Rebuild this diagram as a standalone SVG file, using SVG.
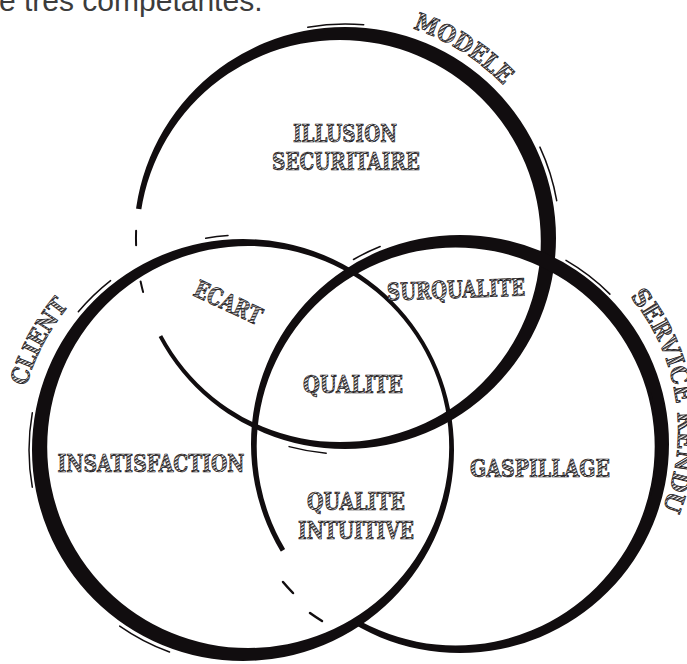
<svg xmlns="http://www.w3.org/2000/svg" width="687" height="664" viewBox="0 0 687 664">
<style>
.ink{fill:#110d0f;fill-rule:evenodd}
.br{fill:none;stroke:#110d0f;stroke-linecap:round}
.lbl{font-family:"DejaVu Serif Condensed","DejaVu Serif",serif;font-weight:bold;font-size:24px;fill:url(#hatch);stroke:#161214;stroke-width:0.7;text-anchor:middle}
.top{font-family:"Liberation Sans",Arial,sans-serif;font-size:30px;fill:#3c3c3c}
</style>
<defs>
<pattern id="hatch" width="3" height="3" patternUnits="userSpaceOnUse" patternTransform="rotate(60)">
<rect width="3" height="3" fill="#ffffff"/>
<rect width="1.6" height="3" fill="#262224"/>
</pattern>
<mask id="m1" maskUnits="userSpaceOnUse" x="0" y="0" width="687" height="664">
<rect width="687" height="664" fill="#fff"/>
<polygon points="345,238 115.4,360.1 87.5,201.8" fill="#000"/>
</mask>
<mask id="m3" maskUnits="userSpaceOnUse" x="0" y="0" width="687" height="664">
<rect width="687" height="664" fill="#fff"/>
<polygon points="460,444 330,669.2 237.1,577.9" fill="#000"/>
</mask>
<path id="pModele" d="M371.8,19.6 A220,220 0 0 1 529.5,118.2"/>
<path id="pClient" d="M17,450 A226,226 0 0 1 116.6,262.6"/>
<path id="pService" d="M616.5,281.5 A210,210 0 0 1 654.1,527.3"/>
</defs>

<text class="top" x="-1" y="11">e très compétantes.</text>

<g id="modele">
<path class="ink" mask="url(#m1)" d="M134,238 a211,211 0 1 0 422,0 a211,211 0 1 0 -422,0 Z M138.8,241 a201,201 0 1 0 402,0 a201,201 0 1 0 -402,0 Z"/>
<path class="br" stroke-width="1.5" d="M307.8,27.3 A214,214 0 0 1 363.7,24.8"/>
<path class="br" stroke-width="1.5" d="M539.9,147.1 A215,215 0 0 1 556.7,200.7"/>
<path class="br" stroke-width="1.5" d="M326.2,453.2 A216,216 0 0 1 289.1,446.6"/>
<path class="br" stroke-width="2" d="M136.1,245.3 A209,209 0 0 1 136.1,230.7"/>
<path class="br" stroke-width="2" d="M143.1,292.1 A209,209 0 0 1 140.6,281.5"/>
<text class="lbl" font-size="25"><textPath href="#pModele" startOffset="50%" textLength="108" lengthAdjust="spacingAndGlyphs">MODELE</textPath></text>
</g>

<g id="client">
<path class="ink" d="M32,450 a211,211 0 1 0 422,0 a211,211 0 1 0 -422,0 Z M47.2,447 a201,201 0 1 0 402,0 a201,201 0 1 0 -402,0 Z"/>
<path class="br" stroke-width="1.5" d="M32.3,487.2 A214,214 0 0 1 32.3,412.8"/>
<path class="br" stroke-width="1.5" d="M78.3,311.8 A215,215 0 0 1 110.6,280.6"/>
<path class="br" stroke-width="1.5" d="M205.7,238.3 A215,215 0 0 1 228,235.5"/>
<path class="br" stroke-width="1.5" d="M169.5,652 A215,215 0 0 1 119.7,626.1"/>
<text class="lbl"><textPath href="#pClient" startOffset="50%" textLength="92" lengthAdjust="spacingAndGlyphs">CLIENT</textPath></text>
</g>

<g id="service-rendu">
<path class="ink" mask="url(#m3)" d="M251,444 a209,209 0 1 0 418,0 a209,209 0 1 0 -418,0 Z M256.7,446.5 a199,199 0 1 0 398,0 a199,199 0 1 0 -398,0 Z"/>
<path class="br" stroke-width="2" d="M650.3,393 A197,197 0 0 1 650.3,495"/>
<path class="br" stroke-width="1.5" d="M566,260.4 A212,212 0 0 1 609.9,294.1"/>
<path class="br" stroke-width="2.5" d="M293,593 A224,224 0 0 1 283,582"/>
<path class="br" stroke-width="2.5" d="M322,621 A224,224 0 0 1 310,613"/>
<path class="br" stroke-width="1.5" d="M353.5,259.5 A213,213 0 0 1 380.2,246.5"/>
<text class="lbl" font-size="22"><textPath href="#pService" startOffset="50%" textLength="226" lengthAdjust="spacingAndGlyphs">SERVICE RENDU</textPath></text>
</g>

<g id="illusion-securitaire">
<text class="lbl" x="345" y="142" textLength="104" lengthAdjust="spacingAndGlyphs">ILLUSION</text>
<text class="lbl" x="346" y="170" textLength="148" lengthAdjust="spacingAndGlyphs">SECURITAIRE</text>
</g>
<g id="ecart">
<text class="lbl" transform="translate(228,303) rotate(25)" x="0" y="8" textLength="72" lengthAdjust="spacingAndGlyphs">ECART</text>
</g>
<g id="surqualite">
<text class="lbl" transform="translate(456,289) rotate(-2)" x="0" y="9" textLength="138" lengthAdjust="spacingAndGlyphs">SURQUALITE</text>
</g>
<g id="qualite">
<text class="lbl" x="353" y="393" textLength="100" lengthAdjust="spacingAndGlyphs">QUALITE</text>
</g>
<g id="insatisfaction">
<text class="lbl" x="151" y="472" textLength="187" lengthAdjust="spacingAndGlyphs">INSATISFACTION</text>
</g>
<g id="qualite-intuitive">
<text class="lbl" x="356" y="510" textLength="98" lengthAdjust="spacingAndGlyphs">QUALITE</text>
<text class="lbl" x="356" y="539" textLength="116" lengthAdjust="spacingAndGlyphs">INTUITIVE</text>
</g>
<g id="gaspillage">
<text class="lbl" x="540" y="477" textLength="140" lengthAdjust="spacingAndGlyphs">GASPILLAGE</text>
</g>
<g id="connectors"/>
</svg>
